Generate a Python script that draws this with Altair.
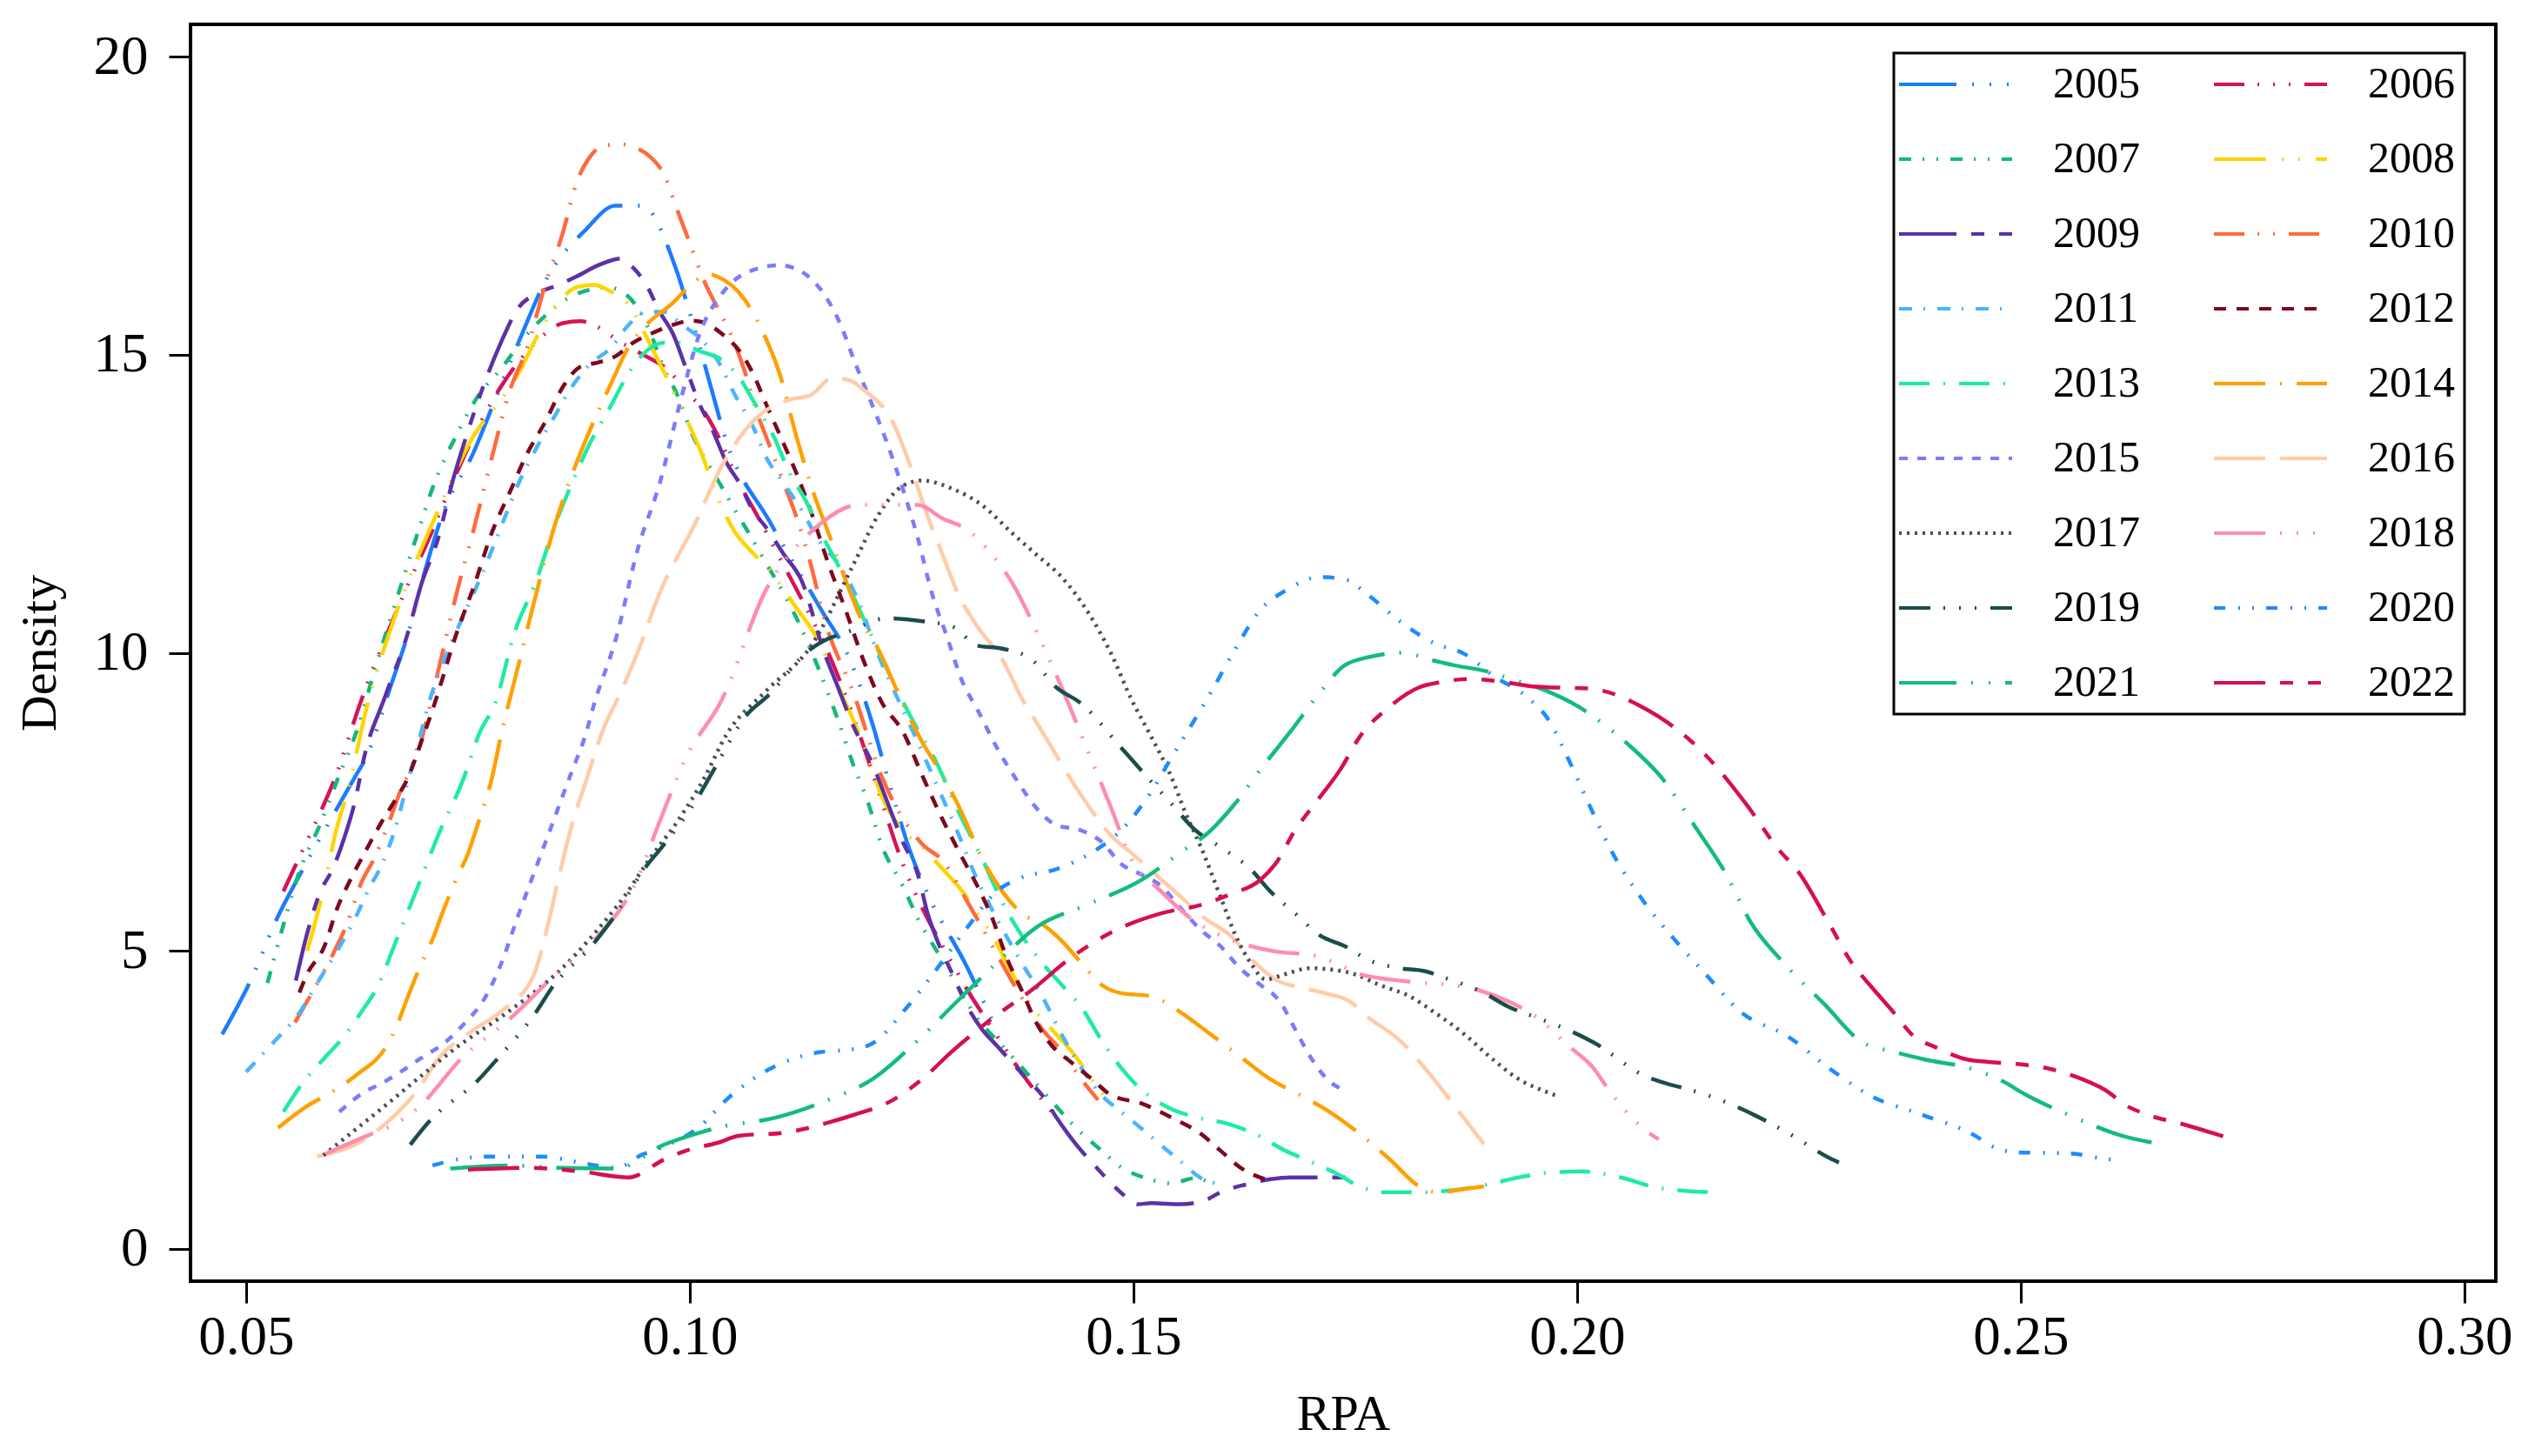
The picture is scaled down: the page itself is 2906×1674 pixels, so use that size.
import altair as alt
import pandas as pd

FONT = "Liberation Serif"

YEARS = [str(y) for y in range(2005, 2023)]
COLORS = ["#1C7CFF", "#D4145A", "#14B87A", "#FFD400", "#5C31A6", "#FF6A3D",
          "#4BB4FF", "#7B0A1E", "#20EBA3", "#FFA000", "#7B7BFF", "#FFCCA8",
          "#4D4D5C", "#FF8CAE", "#1B4D4D", "#1E8CFF", "#14BC7C", "#D60F50"]
DASHES = [[66, 18, 2, 18, 2, 18, 2, 18], [35, 15, 2, 16, 2, 16, 2, 16],
          [14, 13, 2, 14, 2, 14], [60, 18, 2, 17, 2, 18],
          [66, 17, 15, 17, 15, 17], [35, 15, 2, 16, 2, 16],
          [15, 13, 2, 14], [14, 12], [35, 16, 2, 16], [59, 17, 2, 17],
          [10, 11], [59, 17], [3, 6], [59, 17, 2, 17, 2, 17, 2, 17],
          [36, 15, 2, 16, 2, 16, 2, 16], [13, 15, 2, 14, 2, 14],
          [66, 17, 2, 18, 2, 17], [59, 17, 15, 17, 15, 17]]

X_TICKS = [0.05, 0.10, 0.15, 0.20, 0.25, 0.30]
Y_TICKS = [0, 5, 10, 15, 20]

P2005 = [(0.0473, 3.6), (0.0505, 4.5), (0.0535, 5.55), (0.0565, 6.4), (0.0622, 7.9), (0.0637, 8.3),
         (0.0662, 9.4), (0.0682, 10.3), (0.0702, 11.4), (0.0722, 12.35), (0.0756, 13.35), (0.0782, 14.3),
         (0.0811, 15.35), (0.0836, 16.2), (0.0883, 17.1), (0.0916, 17.5), (0.0946, 17.5), (0.0983, 16.5),
         (0.1000, 15.7), (0.1023, 14.5), (0.1040, 13.6), (0.1090, 12.2), (0.1149, 10.7), (0.1180, 9.9),
         (0.1206, 8.8), (0.1223, 7.9), (0.1250, 6.6), (0.1273, 5.8), (0.1310, 4.8), (0.1340, 3.86)]
P2006 = [(0.0542, 6.0), (0.0558, 6.51), (0.0588, 7.47), (0.0600, 7.89), (0.0628, 9.13), (0.0657, 10.25),
         (0.0682, 11.13), (0.0707, 11.95), (0.0732, 12.84), (0.0757, 13.65), (0.0787, 14.46), (0.0817, 15.06),
         (0.0837, 15.35), (0.0857, 15.53), (0.0877, 15.56), (0.0892, 15.5), (0.0912, 15.31), (0.0931, 15.13),
         (0.0951, 14.97), (0.0974, 14.76), (0.0996, 14.39), (0.1019, 13.98), (0.1034, 13.57), (0.1056, 12.84),
         (0.1076, 12.3), (0.1101, 11.6), (0.1126, 10.9), (0.1156, 10.0), (0.1185, 8.9), (0.1210, 7.8),
         (0.1240, 6.46), (0.1268, 5.54), (0.1285, 5.08), (0.1313, 4.34), (0.1341, 3.69), (0.1374, 2.95),
         (0.1408, 2.3)]
P2007 = [(0.0524, 4.46), (0.0543, 5.49), (0.0560, 6.33), (0.0583, 7.11), (0.0605, 7.95), (0.0623, 8.62),
         (0.0648, 9.87), (0.0673, 11.06), (0.0692, 11.95), (0.0712, 12.84), (0.0737, 13.65), (0.0762, 14.32),
         (0.0787, 14.76), (0.0817, 15.35), (0.0837, 15.65), (0.0862, 15.94), (0.0887, 16.09), (0.0907, 16.13),
         (0.0927, 16.02), (0.0941, 15.79), (0.0956, 15.35), (0.0971, 14.76), (0.0986, 14.32), (0.1001, 13.72),
         (0.1016, 13.28), (0.1031, 12.91), (0.1051, 12.39), (0.1066, 12.02), (0.1086, 11.5), (0.1106, 10.99),
         (0.1126, 10.4), (0.1146, 9.7), (0.1167, 8.87), (0.1184, 8.13), (0.1201, 7.48), (0.1217, 6.74),
         (0.1240, 6.09), (0.1257, 5.54), (0.1279, 4.98), (0.1301, 4.43), (0.1324, 3.87), (0.1346, 3.5),
         (0.1369, 3.13), (0.1391, 2.76), (0.1413, 2.39), (0.1436, 2.02), (0.1464, 1.65), (0.1486, 1.37),
         (0.1514, 1.19), (0.1542, 1.1), (0.1570, 1.19), (0.1587, 1.1)]
P2008 = [(0.0569, 5.0), (0.0588, 6.09), (0.0600, 6.93), (0.0618, 7.89), (0.0633, 8.91), (0.0668, 10.62),
         (0.0712, 12.24), (0.0757, 13.65), (0.0787, 14.24), (0.0807, 14.69), (0.0832, 15.42), (0.0852, 15.87),
         (0.0872, 16.13), (0.0892, 16.17), (0.0912, 16.05), (0.0929, 15.87), (0.0959, 15.06), (0.0986, 14.24),
         (0.1013, 13.35), (0.1033, 12.54), (0.1051, 12.02), (0.1068, 11.72), (0.1091, 11.36), (0.1116, 10.84),
         (0.1146, 10.17), (0.1173, 9.24), (0.1195, 8.5), (0.1217, 7.57), (0.1240, 7.02), (0.1262, 6.74),
         (0.1285, 6.37), (0.1307, 6.0), (0.1324, 5.63), (0.1341, 5.26), (0.1357, 4.8), (0.1374, 4.34),
         (0.1391, 3.97), (0.1413, 3.6), (0.1430, 3.32), (0.1453, 2.85), (0.1475, 2.4)]
P2009 = [(0.0556, 4.5), (0.0568, 5.25), (0.0583, 5.97), (0.0598, 6.39), (0.0610, 6.87), (0.0623, 7.53),
         (0.0633, 8.25), (0.0657, 9.28), (0.0682, 10.32), (0.0697, 11.13), (0.0717, 11.95), (0.0732, 12.84),
         (0.0747, 13.58), (0.0767, 14.46), (0.0787, 15.2), (0.0807, 15.79), (0.0827, 16.02), (0.0852, 16.17),
         (0.0872, 16.31), (0.0897, 16.5), (0.0921, 16.61), (0.0936, 16.46), (0.0951, 16.17), (0.0966, 15.72),
         (0.0981, 15.35), (0.0996, 14.76), (0.1011, 14.17), (0.1026, 13.72), (0.1041, 13.2), (0.1056, 12.84),
         (0.1071, 12.39), (0.1086, 12.1), (0.1106, 11.65), (0.1126, 11.21), (0.1150, 10.07), (0.1167, 9.42),
         (0.1184, 8.78), (0.1206, 8.13), (0.1223, 7.48), (0.1240, 6.83), (0.1257, 6.28), (0.1268, 5.63),
         (0.1279, 5.17), (0.1296, 4.61), (0.1313, 4.06), (0.1329, 3.69), (0.1346, 3.41), (0.1363, 3.13),
         (0.1380, 2.85), (0.1397, 2.58), (0.1413, 2.21), (0.1436, 1.74), (0.1458, 1.37), (0.1475, 1.10),
         (0.1492, 0.87), (0.1505, 0.75), (0.1520, 0.77), (0.1553, 0.75), (0.1581, 0.82), (0.1598, 0.95),
         (0.1626, 1.08), (0.1654, 1.17), (0.1677, 1.2), (0.1710, 1.2), (0.1740, 1.2)]
P2010 = [(0.0555, 3.8), (0.0575, 4.32), (0.0600, 5.01), (0.0613, 5.43), (0.0630, 6.15), (0.0645, 6.57),
         (0.0665, 7.32), (0.0673, 7.65), (0.0693, 8.31), (0.0717, 9.73), (0.0737, 10.99), (0.0757, 12.1),
         (0.0777, 13.28), (0.0797, 14.39), (0.0817, 15.13), (0.0837, 16.17), (0.0857, 17.05), (0.0872, 17.87),
         (0.0887, 18.31), (0.0902, 18.5), (0.0921, 18.53), (0.0941, 18.46), (0.0956, 18.31), (0.0971, 18.02),
         (0.0986, 17.42), (0.1001, 16.83), (0.1016, 16.24), (0.1031, 15.79), (0.1046, 15.35), (0.1061, 14.76),
         (0.1076, 14.02), (0.1091, 13.43), (0.1106, 12.84), (0.1121, 12.24), (0.1136, 11.5), (0.1151, 10.6),
         (0.1185, 9.3), (0.1217, 7.9), (0.1262, 6.79), (0.1285, 6.51), (0.1313, 5.82), (0.1341, 5.08),
         (0.1369, 4.34), (0.1397, 3.69), (0.1419, 3.32), (0.1441, 2.85), (0.1460, 2.5)]
P2011 = [(0.0500, 2.97), (0.0533, 3.5), (0.0558, 3.92), (0.0583, 4.53), (0.0603, 5.01), (0.0623, 5.55),
         (0.0638, 6.03), (0.0653, 6.45), (0.0668, 7.05), (0.0682, 7.83), (0.0692, 8.37), (0.0707, 9.21),
         (0.0727, 10.02), (0.0747, 10.69), (0.0767, 11.36), (0.0787, 12.1), (0.0807, 12.84), (0.0827, 13.43),
         (0.0847, 13.95), (0.0867, 14.46), (0.0887, 14.83), (0.0912, 15.13), (0.0931, 15.5), (0.0951, 15.72),
         (0.0971, 15.72), (0.0991, 15.5), (0.1011, 15.28), (0.1031, 14.91), (0.1051, 14.32), (0.1071, 13.8),
         (0.1086, 13.28), (0.1106, 12.84), (0.1126, 12.39), (0.1146, 11.87), (0.1167, 11.5), (0.1189, 10.9),
         (0.1212, 9.98), (0.1234, 9.24), (0.1257, 8.5), (0.1279, 7.76), (0.1301, 7.02), (0.1324, 6.19),
         (0.1346, 5.54), (0.1374, 4.8), (0.1397, 4.24), (0.1419, 3.6), (0.1441, 3.04), (0.1464, 2.58),
         (0.1486, 2.3), (0.1509, 2.02), (0.1531, 1.74), (0.1553, 1.47), (0.1576, 1.19), (0.1593, 1.10)]
P2012 = [(0.0560, 4.3), (0.0568, 4.59), (0.0588, 5.07), (0.0603, 5.73), (0.0618, 6.21), (0.0633, 6.63),
         (0.0653, 7.17), (0.0668, 7.53), (0.0682, 7.89), (0.0697, 8.49), (0.0712, 9.13), (0.0737, 10.32),
         (0.0757, 11.13), (0.0777, 12.02), (0.0797, 12.69), (0.0817, 13.35), (0.0837, 13.87), (0.0857, 14.46),
         (0.0877, 14.8), (0.0897, 14.87), (0.0917, 14.98), (0.0936, 15.2), (0.0956, 15.35), (0.0981, 15.5),
         (0.1001, 15.57), (0.1016, 15.54), (0.1036, 15.35), (0.1056, 15.06), (0.1071, 14.69), (0.1086, 14.17),
         (0.1106, 13.5), (0.1121, 12.98), (0.1136, 12.39), (0.1156, 11.5), (0.1176, 10.7), (0.1195, 9.9),
         (0.1217, 9.15), (0.1240, 8.68), (0.1262, 7.94), (0.1285, 7.2), (0.1307, 6.56), (0.1324, 6.09),
         (0.1341, 5.54), (0.1357, 4.89), (0.1374, 4.34), (0.1391, 3.78), (0.1408, 3.41), (0.1430, 3.13),
         (0.1453, 2.85), (0.1475, 2.58), (0.1509, 2.44), (0.1542, 2.21), (0.1576, 1.93), (0.1598, 1.65),
         (0.1620, 1.37), (0.1650, 1.16)]
P2013 = [(0.0542, 2.3), (0.0565, 2.81), (0.0588, 3.2), (0.0610, 3.56), (0.0630, 3.98), (0.0648, 4.4),
         (0.0668, 5.13), (0.0693, 6.06), (0.0717, 6.96), (0.0745, 7.89), (0.0762, 8.62), (0.0782, 9.21),
         (0.0802, 10.32), (0.0827, 11.21), (0.0847, 12.1), (0.0867, 12.84), (0.0887, 13.5), (0.0912, 14.17),
         (0.0931, 14.69), (0.0951, 15.06), (0.0971, 15.2), (0.0986, 15.2), (0.1011, 15.06), (0.1036, 14.91),
         (0.1056, 14.61), (0.1071, 14.24), (0.1096, 13.58), (0.1111, 13.06), (0.1131, 12.54), (0.1151, 11.92),
         (0.1173, 11.3), (0.1195, 10.6), (0.1223, 9.7), (0.1251, 8.87), (0.1279, 8.13), (0.1301, 7.39),
         (0.1329, 6.56), (0.1352, 5.82), (0.1374, 5.26), (0.1397, 4.8), (0.1419, 4.43), (0.1441, 4.06),
         (0.1464, 3.5), (0.1486, 3.04), (0.1509, 2.67), (0.1537, 2.39), (0.1570, 2.21), (0.1604, 2.11),
         (0.1637, 1.93), (0.1671, 1.65), (0.1699, 1.47), (0.1727, 1.28), (0.1755, 1.05), (0.1783, 0.95),
         (0.1822, 0.95), (0.1856, 0.98), (0.1889, 1.05), (0.1934, 1.2), (0.1968, 1.28), (0.2007, 1.3),
         (0.2049, 1.2), (0.2090, 1.03), (0.2153, 0.95)]
P2014 = [(0.0536, 2.03), (0.0568, 2.39), (0.0593, 2.6), (0.0628, 2.96), (0.0653, 3.29), (0.0668, 3.68),
         (0.0682, 4.22), (0.0697, 4.77), (0.0710, 5.19), (0.0722, 5.67), (0.0737, 6.21), (0.0750, 6.63),
         (0.0762, 7.17), (0.0777, 7.9), (0.0787, 8.6), (0.0807, 9.8), (0.0827, 11.0), (0.0847, 12.1),
         (0.0867, 12.98), (0.0887, 13.72), (0.0912, 14.54), (0.0931, 15.13), (0.0951, 15.5), (0.0981, 15.87),
         (0.1001, 16.17), (0.1021, 16.35), (0.1031, 16.31), (0.1061, 15.94), (0.1081, 15.42), (0.1101, 14.69),
         (0.1121, 13.58), (0.1141, 12.61), (0.1156, 12.02), (0.1176, 11.2), (0.1195, 10.5), (0.1212, 10.07),
         (0.1240, 9.15), (0.1262, 8.5), (0.1285, 7.94), (0.1307, 7.3), (0.1329, 6.56), (0.1352, 6.0),
         (0.1374, 5.63), (0.1397, 5.45), (0.1419, 5.17), (0.1441, 4.8), (0.1464, 4.43), (0.1486, 4.29),
         (0.1520, 4.24), (0.1553, 3.97), (0.1587, 3.6), (0.1620, 3.23), (0.1654, 2.85), (0.1688, 2.58),
         (0.1721, 2.3), (0.1755, 1.93), (0.1789, 1.5), (0.1822, 1.05), (0.1845, 0.95), (0.1870, 1.0),
         (0.1895, 1.05)]
P2015 = [(0.0605, 2.3), (0.0633, 2.63), (0.0653, 2.78), (0.0673, 2.96), (0.0697, 3.2), (0.0727, 3.5),
         (0.0747, 3.8), (0.0767, 4.16), (0.0787, 4.77), (0.0807, 5.61), (0.0822, 6.21), (0.0837, 6.81),
         (0.0852, 7.41), (0.0867, 8.01), (0.0882, 8.6), (0.0892, 9.13), (0.0917, 10.25), (0.0941, 11.72),
         (0.0966, 12.84), (0.0991, 14.31), (0.1011, 15.35), (0.1036, 16.02), (0.1066, 16.39), (0.1101, 16.5),
         (0.1126, 16.39), (0.1151, 16.02), (0.1170, 15.5), (0.1185, 14.91), (0.1206, 14.14), (0.1223, 13.49),
         (0.1240, 12.75), (0.1257, 11.92), (0.1273, 10.99), (0.1290, 10.26), (0.1307, 9.52), (0.1324, 9.05),
         (0.1346, 8.41), (0.1369, 7.85), (0.1391, 7.39), (0.1413, 7.11), (0.1441, 7.02), (0.1464, 6.83),
         (0.1486, 6.46), (0.1509, 6.28), (0.1531, 6.09), (0.1553, 5.72), (0.1576, 5.35), (0.1598, 5.08),
         (0.1620, 4.71), (0.1643, 4.43), (0.1665, 4.15), (0.1682, 3.69), (0.1699, 3.23), (0.1721, 2.81),
         (0.1732, 2.7)]
P2016 = [(0.0580, 1.55), (0.0638, 1.88), (0.0663, 2.18), (0.0693, 2.66), (0.0717, 3.2), (0.0757, 3.68),
         (0.0787, 3.98), (0.0824, 4.59), (0.0837, 5.25), (0.0852, 6.21), (0.0867, 7.11), (0.0882, 7.8),
         (0.0902, 8.7), (0.0921, 9.3), (0.0941, 10.0), (0.0966, 11.0), (0.1006, 12.17), (0.1036, 13.13),
         (0.1076, 13.95), (0.1111, 14.24), (0.1136, 14.32), (0.1161, 14.61), (0.1180, 14.57), (0.1195, 14.42),
         (0.1229, 13.86), (0.1251, 13.03), (0.1268, 12.29), (0.1285, 11.64), (0.1302, 11.0), (0.1324, 10.44),
         (0.1352, 9.89), (0.1374, 9.24), (0.1397, 8.68), (0.1419, 8.13), (0.1447, 7.48), (0.1475, 6.93),
         (0.1497, 6.65), (0.1525, 6.28), (0.1553, 5.91), (0.1581, 5.54), (0.1609, 5.26), (0.1637, 4.8),
         (0.1660, 4.52), (0.1688, 4.38), (0.1716, 4.29), (0.1744, 4.15), (0.1766, 3.87), (0.1800, 3.5),
         (0.1833, 2.95), (0.1867, 2.3), (0.1895, 1.76)]
P2017 = [(0.0587, 1.57), (0.0618, 1.94), (0.0658, 2.42), (0.0697, 2.9), (0.0737, 3.38), (0.0787, 3.89),
         (0.0817, 4.22), (0.0852, 4.65), (0.0872, 4.95), (0.0897, 5.37), (0.0926, 5.91), (0.0956, 6.57),
         (0.0986, 7.17), (0.1016, 7.89), (0.1041, 8.62), (0.1086, 9.36), (0.1136, 10.1), (0.1185, 11.5),
         (0.1212, 12.3), (0.1240, 12.8), (0.1262, 12.89), (0.1296, 12.75), (0.1329, 12.48), (0.1363, 12.01),
         (0.1391, 11.64), (0.1419, 11.27), (0.1447, 10.72), (0.1475, 9.98), (0.1497, 9.24), (0.1520, 8.59),
         (0.1542, 7.94), (0.1559, 7.3), (0.1576, 6.74), (0.1598, 5.91), (0.1615, 5.26), (0.1632, 4.8),
         (0.1649, 4.52), (0.1671, 4.61), (0.1699, 4.71), (0.1721, 4.69), (0.1749, 4.61), (0.1777, 4.43),
         (0.1811, 4.24), (0.1839, 3.97), (0.1873, 3.6), (0.1901, 3.23), (0.1934, 2.85), (0.1968, 2.62),
         (0.1977, 2.57)]
P2018 = [(0.0590, 1.6), (0.0638, 1.91), (0.0663, 2.06), (0.0693, 2.36), (0.0745, 3.23), (0.0795, 3.83),
         (0.0852, 4.65), (0.0889, 5.13), (0.0941, 6.21), (0.0966, 7.17), (0.0996, 8.25), (0.1036, 9.21),
         (0.1086, 11.06), (0.1133, 11.98), (0.1150, 12.2), (0.1190, 12.48), (0.1257, 12.48), (0.1285, 12.25),
         (0.1313, 12.06), (0.1341, 11.64), (0.1363, 11.18), (0.1391, 10.35), (0.1419, 9.42), (0.1447, 8.41),
         (0.1475, 7.39), (0.1497, 6.56), (0.1531, 6.0), (0.1565, 5.54), (0.1598, 5.26), (0.1632, 5.08),
         (0.1665, 4.98), (0.1699, 4.94), (0.1727, 4.8), (0.1755, 4.61), (0.1789, 4.52), (0.1822, 4.47),
         (0.1856, 4.43), (0.1889, 4.34), (0.1923, 4.15), (0.1956, 3.87), (0.1990, 3.41), (0.2018, 3.04),
         (0.2037, 2.64), (0.2078, 1.98), (0.2092, 1.84)]
P2019 = [(0.0685, 1.75), (0.0707, 2.15), (0.0762, 2.84), (0.0782, 3.17), (0.0827, 3.98), (0.0844, 4.37),
         (0.0892, 5.13), (0.0912, 5.52), (0.0951, 6.42), (0.0969, 6.75), (0.1011, 7.62), (0.1026, 8.01),
         (0.1066, 8.99), (0.1086, 9.25), (0.1136, 10.06), (0.1151, 10.2), (0.1178, 10.35), (0.1223, 10.58),
         (0.1262, 10.53), (0.1296, 10.44), (0.1324, 10.12), (0.1352, 10.07), (0.1385, 9.89), (0.1413, 9.42),
         (0.1441, 9.15), (0.1486, 8.41), (0.1514, 7.94), (0.1542, 7.48), (0.1570, 7.02), (0.1598, 6.74),
         (0.1632, 6.37), (0.1654, 6.0), (0.1682, 5.63), (0.1710, 5.26), (0.1738, 5.08), (0.1766, 4.84),
         (0.1800, 4.71), (0.1828, 4.66), (0.1856, 4.52), (0.1889, 4.34), (0.1923, 4.06), (0.1956, 3.87),
         (0.1989, 3.68), (0.2019, 3.46), (0.2078, 2.89), (0.2102, 2.77), (0.2125, 2.68), (0.2173, 2.43),
         (0.2202, 2.23), (0.2244, 1.89), (0.2285, 1.52), (0.2295, 1.45)]
P2020 = [(0.0710, 1.4), (0.0737, 1.5), (0.0772, 1.55), (0.0832, 1.55), (0.0887, 1.42), (0.0917, 1.36),
         (0.0946, 1.58), (0.0976, 1.75), (0.1011, 2.05), (0.1041, 2.5), (0.1071, 2.85), (0.1101, 3.1),
         (0.1146, 3.3), (0.1184, 3.35), (0.1206, 3.45), (0.1245, 4.06), (0.1279, 4.71), (0.1313, 5.4),
         (0.1346, 6.0), (0.1374, 6.23), (0.1413, 6.37), (0.1453, 6.65), (0.1486, 7.02), (0.1520, 7.67),
         (0.1542, 8.22), (0.1565, 8.78), (0.1587, 9.33), (0.1615, 10.07), (0.1643, 10.72), (0.1671, 11.04),
         (0.1710, 11.27), (0.1738, 11.23), (0.1766, 10.95), (0.1800, 10.53), (0.1839, 10.16), (0.1873, 9.98),
         (0.1906, 9.61), (0.1945, 9.24), (0.1968, 8.87), (0.1990, 8.22), (0.2013, 7.47), (0.2037, 6.72),
         (0.2072, 5.89), (0.2108, 5.22), (0.2143, 4.64), (0.2184, 3.98), (0.2238, 3.56), (0.2285, 3.02),
         (0.2332, 2.56), (0.2385, 2.27), (0.2445, 1.93), (0.2474, 1.68), (0.2498, 1.62), (0.2557, 1.6),
         (0.2592, 1.52), (0.2608, 1.49)]
P2021 = [(0.0730, 1.35), (0.0797, 1.4), (0.0857, 1.36), (0.0917, 1.35), (0.0971, 1.75), (0.1011, 1.95),
         (0.1036, 2.05), (0.1096, 2.2), (0.1156, 2.5), (0.1206, 2.85), (0.1257, 3.5), (0.1301, 4.15),
         (0.1346, 4.8), (0.1391, 5.4), (0.1447, 5.77), (0.1509, 6.19), (0.1553, 6.65), (0.1587, 7.02),
         (0.1615, 7.48), (0.1643, 8.04), (0.1677, 8.68), (0.1710, 9.33), (0.1738, 9.79), (0.1766, 9.93),
         (0.1805, 10.0), (0.1833, 9.89), (0.1861, 9.79), (0.1895, 9.7), (0.1934, 9.52), (0.1962, 9.38),
         (0.2001, 9.1), (0.2037, 8.72), (0.2057, 8.47), (0.2096, 7.89), (0.2134, 7.06), (0.2167, 6.31),
         (0.2196, 5.47), (0.2232, 4.81), (0.2279, 4.1), (0.2320, 3.48), (0.2356, 3.31), (0.2391, 3.18),
         (0.2445, 3.02), (0.2480, 2.81), (0.2504, 2.6), (0.2557, 2.23), (0.2616, 1.89), (0.2654, 1.77)]
P2022 = [(0.0750, 1.33), (0.0817, 1.36), (0.0877, 1.3), (0.0931, 1.2), (0.0971, 1.5), (0.0996, 1.65),
         (0.1031, 1.78), (0.1056, 1.9), (0.1106, 1.95), (0.1131, 2.02), (0.1156, 2.12), (0.1185, 2.25),
         (0.1229, 2.5), (0.1262, 2.85), (0.1296, 3.32), (0.1341, 3.87), (0.1385, 4.34), (0.1430, 4.89),
         (0.1475, 5.31), (0.1531, 5.63), (0.1576, 5.77), (0.1609, 5.95), (0.1643, 6.19), (0.1660, 6.46),
         (0.1682, 7.02), (0.1705, 7.48), (0.1733, 8.04), (0.1755, 8.59), (0.1789, 9.1), (0.1822, 9.42),
         (0.1844, 9.5), (0.1878, 9.56), (0.1912, 9.52), (0.1954, 9.43), (0.2013, 9.4), (0.2043, 9.3),
         (0.2072, 9.1), (0.2096, 8.89), (0.2143, 8.31), (0.2190, 7.47), (0.2226, 6.72), (0.2250, 6.31),
         (0.2285, 5.43), (0.2309, 4.81), (0.2332, 4.39), (0.2356, 3.98), (0.2380, 3.56), (0.2403, 3.39),
         (0.2439, 3.18), (0.2462, 3.14), (0.2498, 3.1), (0.2533, 3.02), (0.2569, 2.85), (0.2598, 2.64),
         (0.2616, 2.43), (0.2639, 2.27), (0.2681, 2.1), (0.2728, 1.89)]

CURVES = [P2005, P2006, P2007, P2008, P2009, P2010, P2011, P2012, P2013,
          P2014, P2015, P2016, P2017, P2018, P2019, P2020, P2021, P2022]

rows = []
for yr, pts in zip(YEARS, CURVES):
    for i, (xv, yv) in enumerate(pts):
        rows.append({"year": yr, "RPA": xv, "Density": yv, "i": i})
df = pd.DataFrame(rows)

# legend fills column by column: odd years in the first column, even years in the second
LEGEND_ORDER = list(range(0, 18, 2)) + list(range(1, 18, 2))
DOMAIN = [YEARS[k] for k in LEGEND_ORDER]
COLOR_RANGE = [COLORS[k] for k in LEGEND_ORDER]
DASH_RANGE = [DASHES[k] for k in LEGEND_ORDER]

legend = alt.Legend(
    title=None, orient="none", legendX=1958, legendY=33, columns=2,
    symbolType="M-1,0H9", symbolSize=676, symbolStrokeWidth=4, symbolOffset=-17,
    labelFont=FONT, labelFontSize=50, labelColor="black", labelOffset=139,
    columnPadding=77, rowPadding=36, padding=11, strokeColor="black",
    symbolLimit=0, labelLimit=0,
)

chart = alt.Chart(df).mark_line(strokeWidth=4.5, interpolate="monotone").encode(
    x=alt.X("RPA:Q",
            scale=alt.Scale(domain=[0.04373, 0.30353], nice=False, zero=False),
            axis=alt.Axis(values=X_TICKS, format=".2f", title="RPA",
                          titleFont=FONT, titleFontSize=58, titleFontWeight="normal",
                          titleColor="black", titleY=124, titleBaseline="top",
                          labelFont=FONT, labelFontSize=63, labelColor="black",
                          labelPadding=8, tickSize=25, tickWidth=3, tickColor="black",
                          domain=False, grid=False, labelFlush=False, labelOverlap=False)),
    y=alt.Y("Density:Q",
            scale=alt.Scale(domain=[-0.54, 20.54], nice=False, zero=False),
            axis=alt.Axis(values=Y_TICKS, format="d", title="Density",
                          titleFont=FONT, titleFontSize=58, titleFontWeight="normal",
                          titleColor="black", titleX=-156, titleBaseline="alphabetic",
                          labelFont=FONT, labelFontSize=63, labelColor="black",
                          labelPadding=24, tickSize=25, tickWidth=3, tickColor="black",
                          domain=False, grid=False, labelFlush=False, labelOverlap=False)),
    color=alt.Color("year:N", scale=alt.Scale(domain=DOMAIN, range=COLOR_RANGE), legend=legend),
    strokeDash=alt.StrokeDash("year:N", scale=alt.Scale(domain=DOMAIN, range=DASH_RANGE), legend=legend),
    order=alt.Order("i:Q"),
).properties(
    width=2650, height=1445,
    autosize=alt.AutoSizeParams(type="none"),
    padding={"left": 211, "top": 20, "right": 29, "bottom": 193},
).configure_view(
    stroke="black", strokeWidth=4
).configure_legend(
    strokeWidth=3
)

chart.save("out.html", embed_options={"renderer": "svg", "actions": False})
